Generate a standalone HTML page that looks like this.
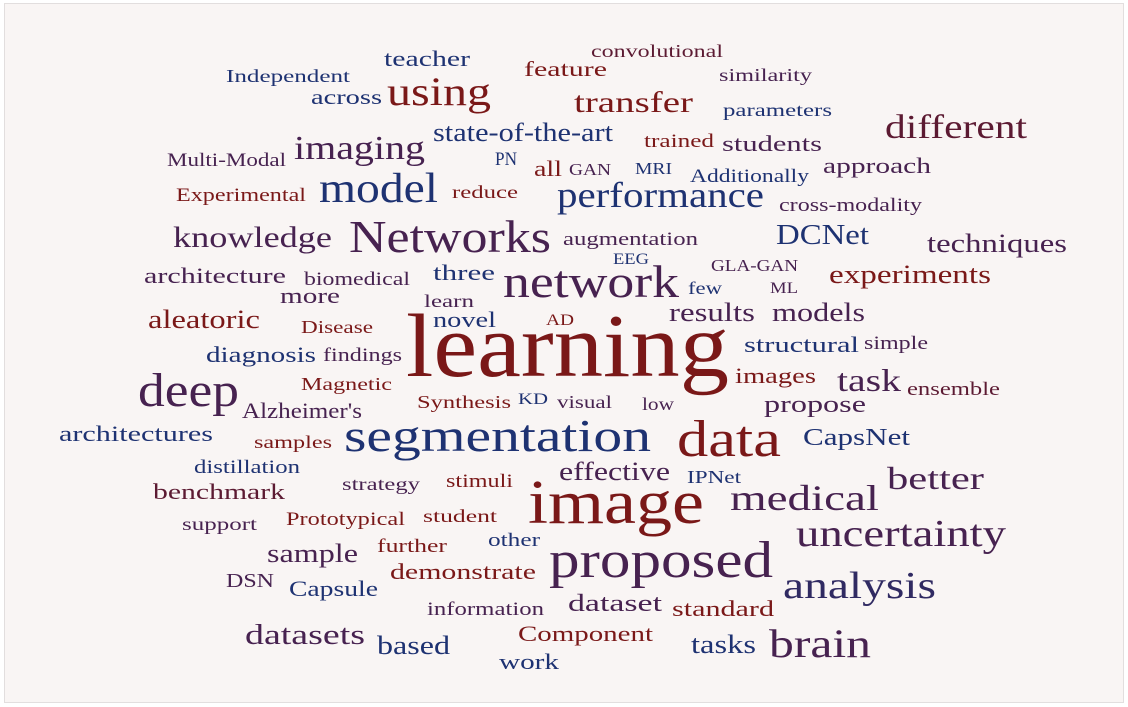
<!DOCTYPE html>
<html><head><meta charset="utf-8">
<style>
html,body{margin:0;padding:0;background:#fff;}
#frame{position:absolute;left:4px;top:3px;width:1120px;height:700px;background:#f9f5f4;border:1px solid #e2dede;box-sizing:border-box;overflow:hidden;}
.w{position:absolute;white-space:nowrap;font-family:"Liberation Serif",serif;line-height:1;transform-origin:0 0;}
</style></head>
<body>
<div id="frame"></div>
<script>
const words=["learning","image","proposed","segmentation","data","Networks","network","deep","model","performance","uncertainty","analysis","medical","brain","different","using","imaging","knowledge","transfer","state-of-the-art","better","task","datasets","DCNet","techniques","experiments","results","models","aleatoric","architecture","architectures","diagnosis","Alzheimer's","benchmark","sample","Capsule","DSN","demonstrate","dataset","standard","tasks","Component","based","work","information","effective","CapsNet","propose","structural","images","simple","ensemble","novel","three","more","biomedical","learn","Disease","findings","Magnetic","Synthesis","KD","visual","low","samples","distillation","strategy","stimuli","IPNet","support","Prototypical","student","further","other","AD","few","ML","GLA-GAN","EEG","augmentation","cross-modality","reduce","Experimental","Multi-Modal","PN","all","GAN","MRI","Additionally","approach","students","trained","parameters","similarity","convolutional","feature","teacher","Independent","across"];
const cx=[566,615,660,496,728,449,590,187,377,659,900,858,803,819,955,438,358,251,632,522,934,868,304,821,996,909,711,817,203,214,135,260,301,218,311,332,249,462,614,722,722,584,412,528,484,613,855,814,800,774,895,952,463,463,309,356,448,336,361,345,463,532,583,657,292,246,380,478,713,218,344,459,411,513,559,704,783,753,630,629,849,484,240,225,505,547,589,652,748,876,771,678,776,764,656,564,426,287,345];
const cy=[350,505,563,437,442,238,283,392,190,196,535,587,499,645,129,93,150,238,103,133,479,381,636,236,244,275,313,313,320,276,434,355,411,492,554,589,581,572,604,609,645,634,646,662,609,472,438,405,345,376,343,389,320,273,296,279,301,327,355,384,402,400,402,404,442,467,484,481,477,524,519,516,546,540,321,288,289,265,260,239,205,192,195,160,159,169,169,168,176,166,144,141,110,75,51,70,59,76,98];
const fs=[90,62,52,46,52,46,46,48,42,36,38,38,36,40,34,40,34,30,30,26,32,32,28,28,26,26,26,26,26,22,22,22,22,22,26,22,20,22,24,22,26,22,26,22,19,26,24,24,22,22,19,19,22,22,22,19,18,18,19,18,18,16,18,18,18,19,18,19,18,18,19,18,19,19,16,18,16,17,16,19,19,18,19,19,19,22,17,17,19,22,22,19,18,18,18,21,22,18,21];
const wd=[323,176,224,307,104,202,176,101,119,207,210,153,149,102,142,104,131,159,119,180,97,64,120,93,140,162,86,93,112,142,154,110,120,132,91,89,48,146,94,102,65,135,73,60,117,111,107,102,115,81,64,93,63,62,60,106,50,72,79,91,94,30,55,32,78,106,78,67,54,75,119,74,70,52,28,34,28,87,36,135,143,66,130,119,22,28,42,37,119,108,100,70,109,93,132,83,86,124,71];
const col=["r","r","p","b","r","p","p","p","b","b","p","q","p","p","s","r","p","p","r","b","p","p","p","b","p","r","p","p","r","p","b","b","p","s","p","b","p","r","p","r","b","r","b","b","p","p","b","p","b","r","p","s","b","b","p","p","p","r","p","r","r","b","p","p","r","b","p","r","b","p","r","r","r","b","r","b","p","p","b","p","p","r","r","p","b","r","p","b","b","p","p","r","b","p","s","r","b","b","b"];
const palette={r:"#7a1818",b:"#1e3272",p:"#472250",q:"#302a62",s:"#5c1a32"};
const frame=document.getElementById('frame');
for(let i=0;i<words.length;i++){
  const el=document.createElement('div');
  el.className='w';
  el.textContent=words[i];
  
  
  el.style.fontSize=fs[i]+'px';
  el.style.color=palette[col[i]];
  frame.appendChild(el);
  const mw=el.getBoundingClientRect().width;
  const sx=wd[i]/mw;
  el.style.left=(cx[i]-4-wd[i]/2)+'px';
  el.style.top=(cy[i]-3-fs[i]*0.55)+'px';
  el.style.transform='scaleX('+sx+')';
}
</script>
</body></html>
